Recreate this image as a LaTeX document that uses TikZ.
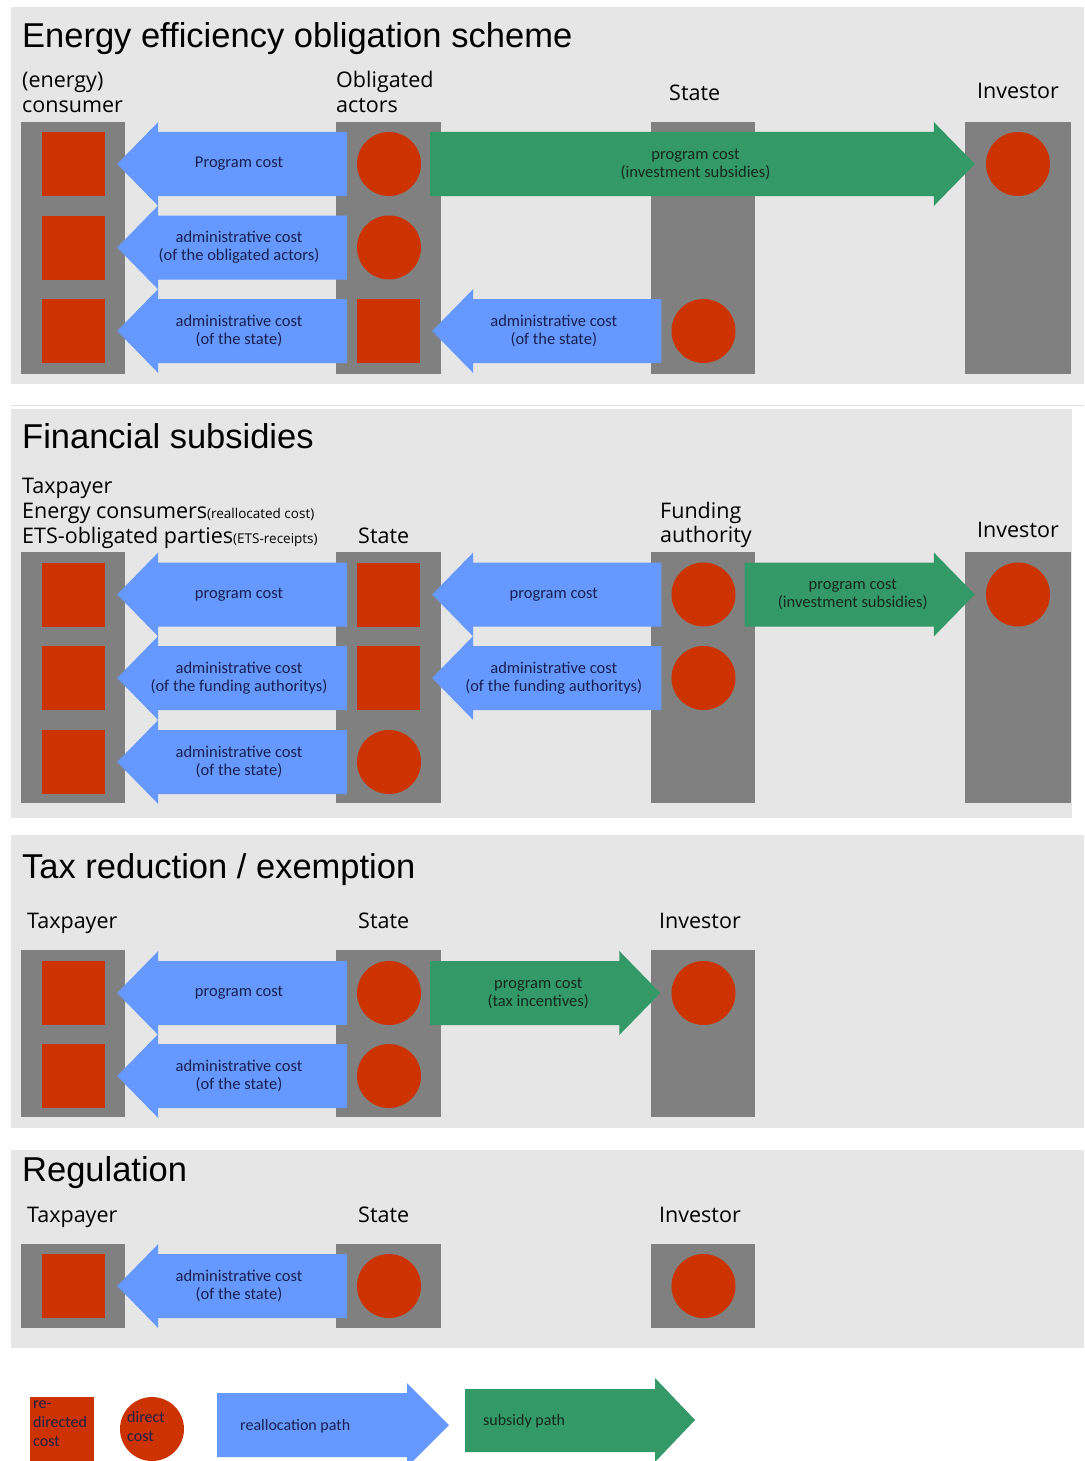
\documentclass[tikz,border=0pt]{standalone}
\usepackage{fontspec}
\setmainfont{Open Sans}
\newfontfamily\headfont{Liberation Sans}
\newfontfamily\flowfont{Carlito}
\usetikzlibrary{calc}

\definecolor{panelbg}{HTML}{E6E6E6}
\definecolor{colgray}{HTML}{808080}
\definecolor{tokred}{HTML}{CC3300}
\definecolor{flowblue}{HTML}{6699FF}
\definecolor{flowgreen}{HTML}{339966}
\definecolor{navytext}{HTML}{1A1F4D}
\definecolor{greentext}{HTML}{16281F}

\tikzset{
  panel/.style={fill=panelbg},
  colbar/.style={fill=colgray},
  disc/.style={circle, fill=tokred, minimum size=64pt, inner sep=0pt},
  block/.style={rectangle, fill=tokred, minimum width=63pt, minimum height=64pt, inner sep=0pt},
  heading/.style={font=\headfont\fontsize{34.5}{40}\selectfont, anchor=base west, inner sep=0pt},
  actor/.style={font=\fontsize{21.5}{26}\selectfont, anchor=base west, inner sep=0pt},
  flowtext/.style={font=\flowfont\fontsize{16.5}{18}\selectfont, align=center, inner sep=0pt},
  keytext/.style={font=\flowfont\fontsize{16}{19}\selectfont, text=navytext, align=left, inner sep=0pt},
}

% leftward reallocation arrow from a source token to a target token
\newcommand\leftflow[4]{%
  \path[fill=flowblue] let \p1=(#2.west), \p2=(#3.east) in
    ({\x1-10pt},{\y1+32pt}) -- ({\x2+53pt},{\y1+32pt}) -- ({\x2+53pt},{\y1+42pt})
    -- ({\x2+12pt},\y1) -- ({\x2+53pt},{\y1-42pt}) -- ({\x2+53pt},{\y1-32pt})
    -- ({\x1-10pt},{\y1-32pt}) -- cycle
    node[flowtext, text=navytext] (#1) at ({(\x1+\x2)/2+8pt},\y1) {#4};}

% rightward subsidy arrow from a source token to a target token
\newcommand\rightflow[4]{%
  \path[fill=flowgreen] let \p1=(#2.east), \p2=(#3.west) in
    ({\x1+9pt},{\y1+32pt}) -- ({\x2-52pt},{\y1+32pt}) -- ({\x2-52pt},{\y1+42pt})
    -- ({\x2-11pt},\y1) -- ({\x2-52pt},{\y1-42pt}) -- ({\x2-52pt},{\y1-32pt})
    -- ({\x1+9pt},{\y1-32pt}) -- cycle
    node[flowtext, text=greentext] (#1) at ({(\x1+\x2)/2-8pt},\y1) {#4};}

\begin{document}
\begin{tikzpicture}[x=1pt, y=-1pt]
\useasboundingbox[fill=white] (0,0) rectangle (1084,1461);

% ---------- panels ----------
\fill[panel] (11,7) rectangle (1084,384);
\draw[line width=1pt, draw=black!12] (11,405) -- (1084,405);
\fill[panel] (11,409) rectangle (1072,818);
\fill[panel] (11,835) rectangle (1084,1128);
\fill[panel] (11,1150) rectangle (1084,1348);

% ---------- Energy efficiency obligation scheme ----------
\node[heading] (h1) at (22,48) {Energy efficiency obligation\hspace{10pt}scheme};
\node[actor] (l1a) at (22,88) {(energy)};
\node[actor] (l1b) at (22,113) {consumer};
\node[actor] (l1c) at (336,88) {Obligated};
\node[actor] (l1d) at (336,113) {actors};
\node[actor] (l1e) at (669,101) {State};
\node[actor] (l1f) at (977,99) {Investor};

\fill[colbar] (21,122) rectangle (125,374);
\fill[colbar] (336,122) rectangle (441,374);
\fill[colbar] (651,122) rectangle (755,374);
\fill[colbar] (965,122) rectangle (1071,374);

\node[block] (ec1) at (73.5,164) {};
\node[block] (ec2) at (73.5,247.5) {};
\node[block] (ec3) at (73.5,331) {};
\node[disc]  (oa1) at (389,164) {};
\node[disc]  (oa2) at (389,247.5) {};
\node[block] (oa3) at (388.5,331) {};
\node[disc]  (st1) at (703.5,331) {};
\node[disc]  (iv1) at (1018,164) {};

\leftflow{f11}{oa1}{ec1}{Program cost}
\leftflow{f12}{oa2}{ec2}{administrative cost\\(of the obligated actors)}
\leftflow{f13}{oa3}{ec3}{administrative cost\\(of the state)}
\leftflow{f14}{st1}{oa3}{administrative cost\\(of the state)}
\rightflow{g11}{oa1}{iv1}{program cost\\(investment subsidies)}

% ---------- Financial subsidies ----------
\node[heading] (h2) at (22,448) {Financial subsidies};
\node[actor] (l2a) at (22,493) {Taxpayer};
\node[actor] (l2b) at (22,518) {Energy consumers{\fontsize{13.5}{15}\selectfont(reallocated cost)}};
\node[actor] (l2c) at (22,543) {ETS-obligated parties{\fontsize{13.5}{15}\selectfont(ETS-receipts)}};
\node[actor] (l2d) at (358,543) {State};
\node[actor] (l2e) at (660,518) {Funding};
\node[actor] (l2f) at (660,542) {authority};
\node[actor] (l2g) at (977,537) {Investor};

\fill[colbar] (21,552) rectangle (125,803);
\fill[colbar] (336,552) rectangle (441,803);
\fill[colbar] (651,552) rectangle (755,803);
\fill[colbar] (965,552) rectangle (1071,803);

\node[block] (tp1) at (73.5,594.5) {};
\node[block] (tp2) at (73.5,678) {};
\node[block] (tp3) at (73.5,762) {};
\node[block] (sb1) at (388.5,594.5) {};
\node[block] (sb2) at (388.5,678) {};
\node[disc]  (sc3) at (389,762) {};
\node[disc]  (fa1) at (703.5,594.5) {};
\node[disc]  (fa2) at (703.5,678) {};
\node[disc]  (iv2) at (1018,594.5) {};

\leftflow{f21}{sb1}{tp1}{program cost}
\leftflow{f22}{sb2}{tp2}{administrative cost\\(of the funding authoritys)}
\leftflow{f23}{sc3}{tp3}{administrative cost\\(of the state)}
\leftflow{f24}{fa1}{sb1}{program cost}
\leftflow{f25}{fa2}{sb2}{administrative cost\\(of the funding authoritys)}
\rightflow{g21}{fa1}{iv2}{program cost\\(investment subsidies)}

% ---------- Tax reduction / exemption ----------
\node[heading] (h3) at (22,878) {Tax reduction / exemption};
\node[actor] (l3a) at (27,928) {Taxpayer};
\node[actor] (l3b) at (358,928) {State};
\node[actor] (l3c) at (659,928) {Investor};

\fill[colbar] (21,950) rectangle (125,1117);
\fill[colbar] (336,950) rectangle (441,1117);
\fill[colbar] (651,950) rectangle (755,1117);

\node[block] (tx1) at (73.5,993) {};
\node[block] (tx2) at (73.5,1076) {};
\node[disc]  (sd1) at (389,993) {};
\node[disc]  (sd2) at (389,1076) {};
\node[disc]  (ivd) at (703.5,993) {};

\leftflow{f31}{sd1}{tx1}{program cost}
\leftflow{f32}{sd2}{tx2}{administrative cost\\(of the state)}
\rightflow{g31}{sd1}{ivd}{program cost\\(tax incentives)}

% ---------- Regulation ----------
\node[heading] (h4) at (22,1181) {Regulation};
\node[actor] (l4a) at (27,1222) {Taxpayer};
\node[actor] (l4b) at (358,1222) {State};
\node[actor] (l4c) at (659,1222) {Investor};

\fill[colbar] (21,1244) rectangle (125,1328);
\fill[colbar] (336,1244) rectangle (441,1328);
\fill[colbar] (651,1244) rectangle (755,1328);

\node[block] (rg1) at (73.5,1286) {};
\node[disc]  (rgs) at (389,1286) {};
\node[disc]  (rgi) at (703.5,1286) {};

\leftflow{f41}{rgs}{rg1}{administrative cost\\(of the state)}

% ---------- key ----------
\fill[tokred] (30,1397) rectangle (94,1461);
\node[keytext, anchor=north west] (k1) at (33,1401) {re-\\directed\\cost};
\fill[tokred] (152,1429) circle[radius=32];
\node[keytext, anchor=north west] (k2) at (127,1411) {direct\\cost};
\fill[flowblue] (217,1393) -- (407,1393) -- (407,1383) -- (449,1425) -- (407,1467)
  -- (407,1457) -- (217,1457) -- cycle;
\node[keytext, anchor=base west] (k3) at (240,1430) {reallocation path};
\fill[flowgreen] (465,1389) -- (655,1389) -- (655,1378) -- (695,1420) -- (655,1462)
  -- (655,1452) -- (465,1452) -- cycle;
\node[keytext, anchor=base west, text=greentext] (k4) at (483,1425) {subsidy path};
\end{tikzpicture}
\end{document}
